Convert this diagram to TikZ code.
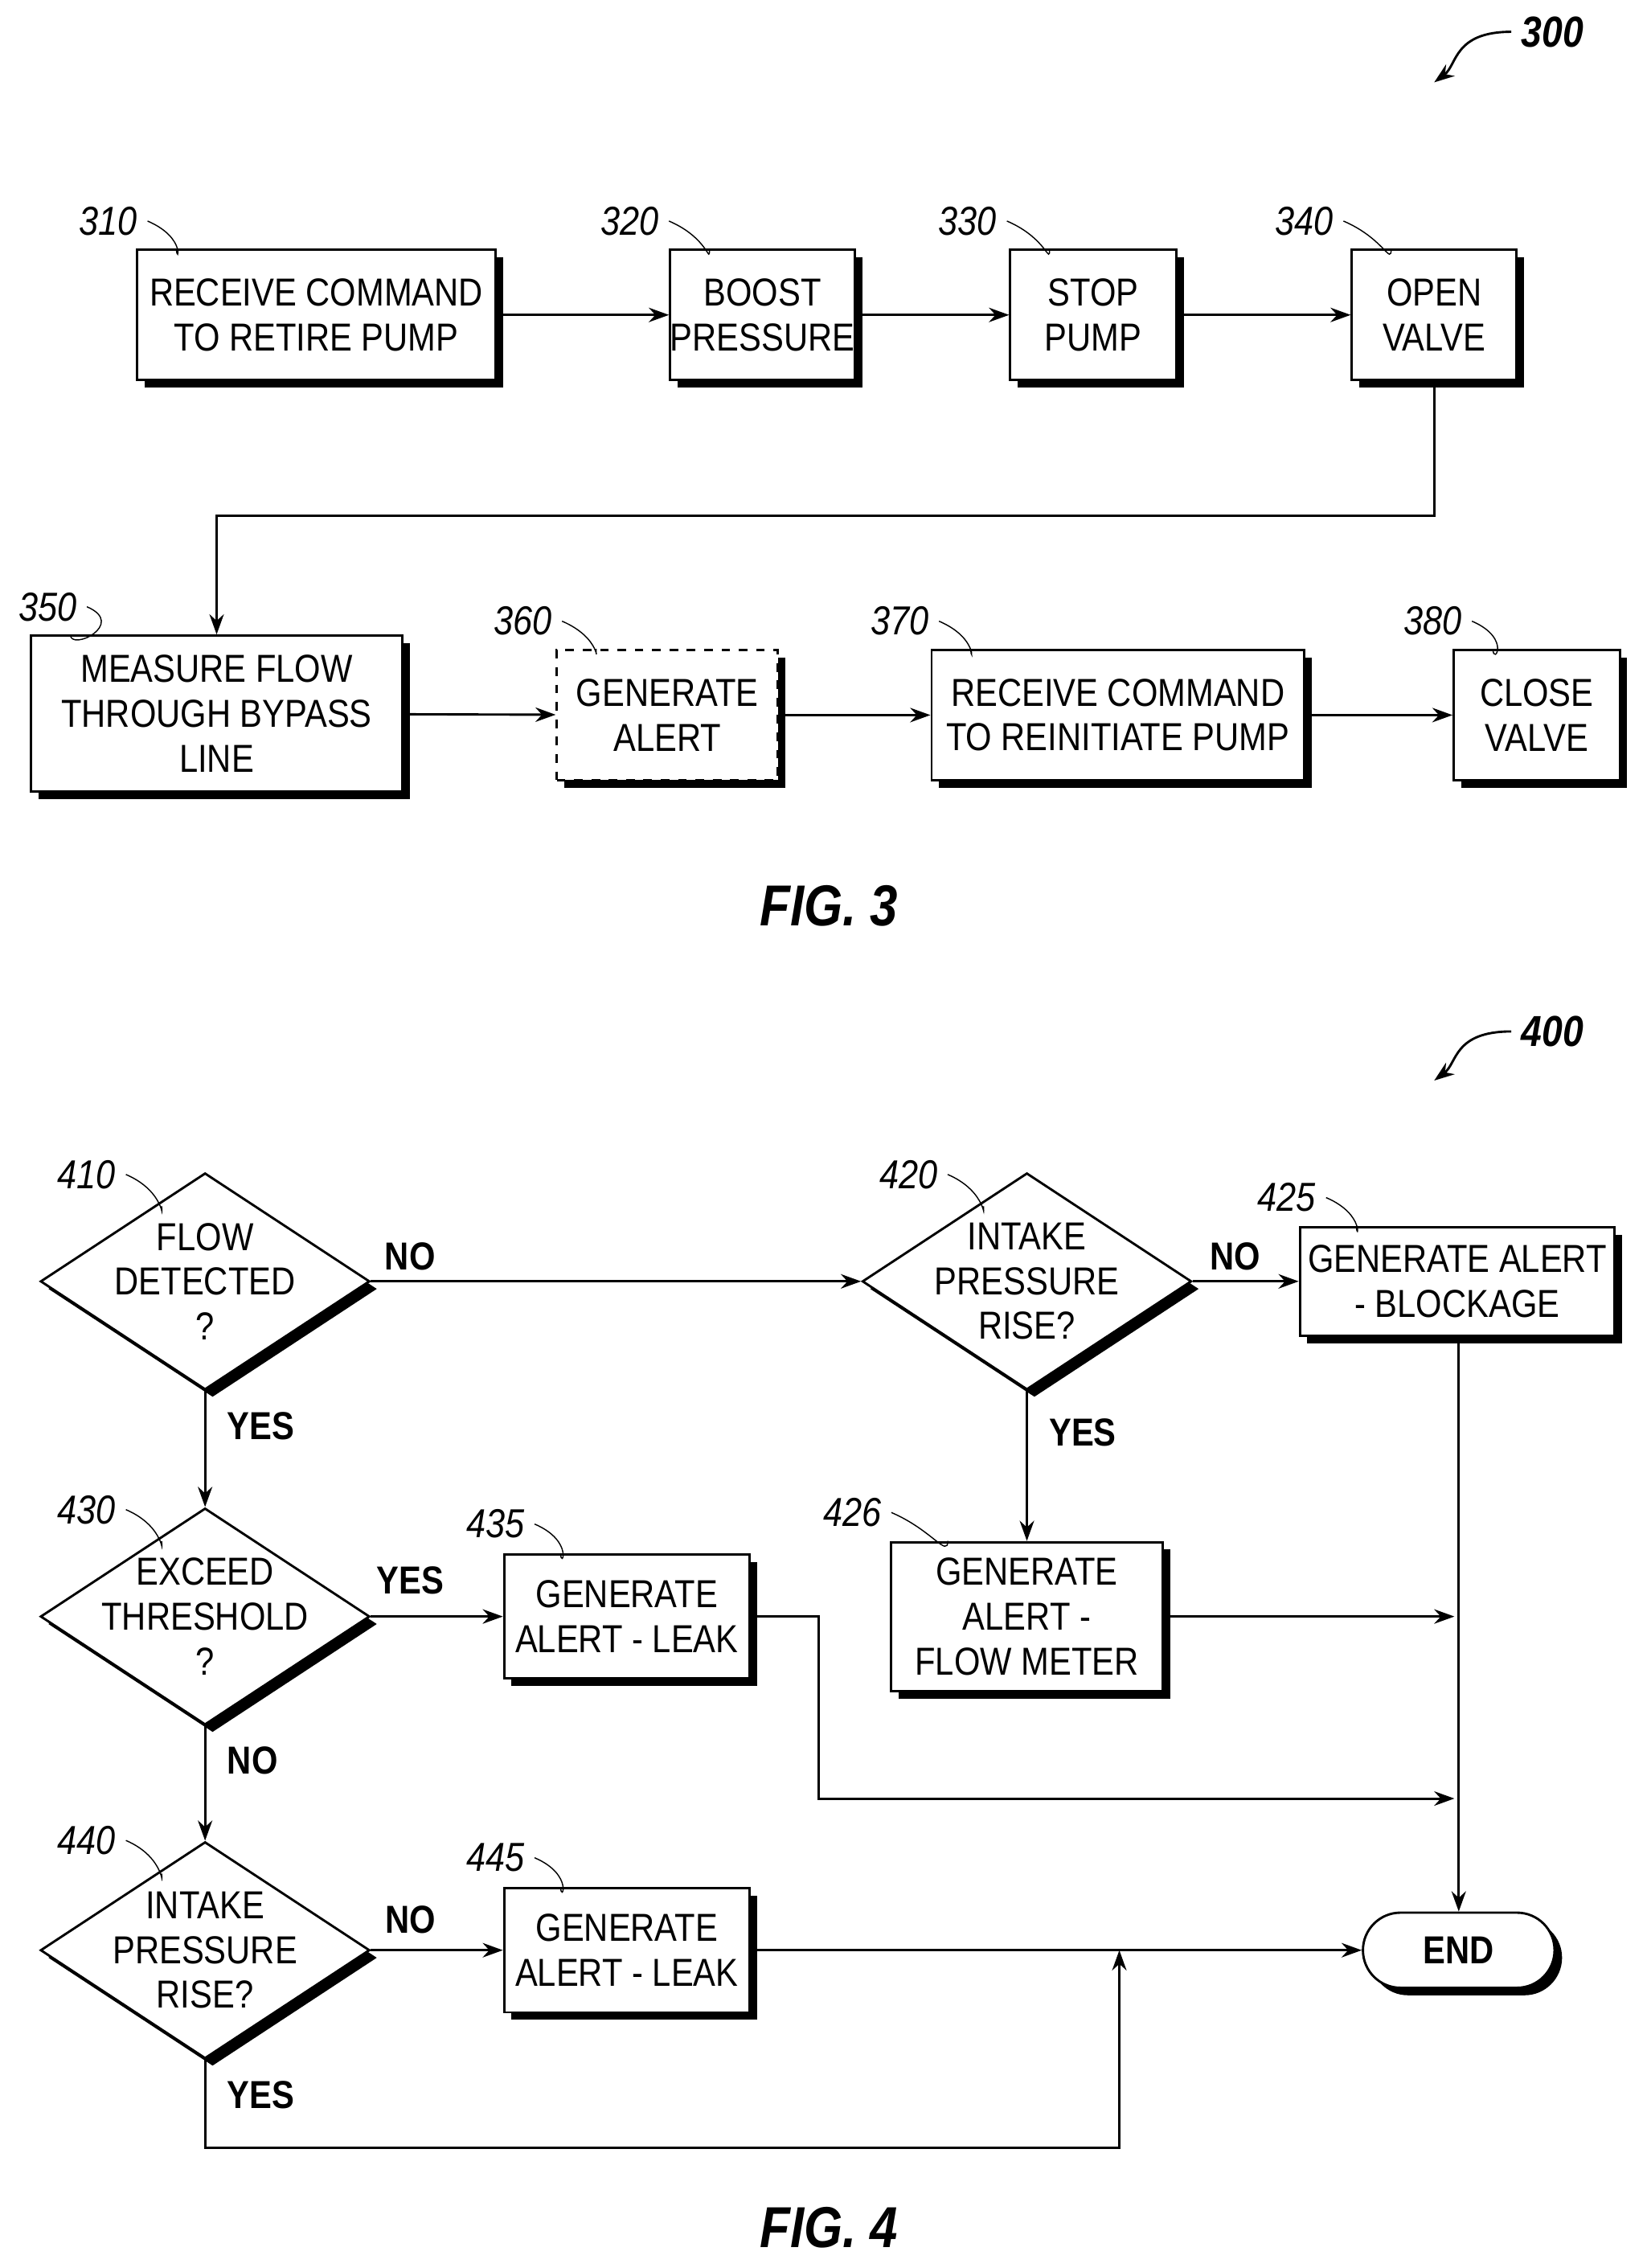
\documentclass[tikz,border=0pt]{standalone}
\usepackage{fontspec}
\setmainfont[FakeStretch=0.86]{Liberation Sans}
\usetikzlibrary{shapes.geometric,shapes.misc,shadows,arrows.meta}
\begin{document}
\begin{tikzpicture}[x=0.5pt,y=-0.5pt,
  every node/.style={font=\fontsize{13.5}{15.5}\selectfont},
  sh/.style={drop shadow={shadow xshift=2.6pt,shadow yshift=-2.6pt,fill=black,opacity=1}},
  box/.style={draw,thick,fill=white,sh,align=center,inner sep=0pt},
  dia/.style={draw,thick,fill=white,sh,diamond,inner sep=0pt,minimum width=114pt,minimum height=75pt},
  arr/.style={thick,-{Stealth[length=7pt,width=5pt]}},
  num/.style={font=\fontsize{14}{16}\selectfont\itshape},
  yn/.style={font=\fontsize{13.5}{15.5}\selectfont\bfseries},
  lead/.style={thin}]
\useasboundingbox (0,0) rectangle (1140,1570);
% FIG 3
\node[box,minimum width=124pt,minimum height=45pt] (b310) at (219,218) {RECEIVE COMMAND\\TO RETIRE PUMP};
\node[box,minimum width=64pt,minimum height=45pt] (b320) at (528,218) {BOOST\\PRESSURE};
\node[box,minimum width=57.5pt,minimum height=45pt] (b330) at (757,218) {STOP\\PUMP};
\node[box,minimum width=57pt,minimum height=45pt] (b340) at (993,218) {OPEN\\VALVE};
\node[box,minimum width=128.5pt,minimum height=54pt] (b350) at (150,494) {MEASURE FLOW\\THROUGH BYPASS\\LINE};
\node[box,dashed,minimum width=76.5pt,minimum height=45pt] (b360) at (462,495) {GENERATE\\ALERT};
\node[box,minimum width=129pt,minimum height=45pt] (b370) at (774,495) {RECEIVE COMMAND\\TO REINITIATE PUMP};
\node[box,minimum width=57.5pt,minimum height=45pt] (b380) at (1064,495) {CLOSE\\VALVE};
\draw[arr] (b310) -- (b320);
\draw[arr] (b320) -- (b330);
\draw[arr] (b330) -- (b340);
\coordinate (c1) at (993,357); \coordinate (c2) at (150,357);
\draw[arr] (b340.south) -- (c1) -- (c2) -- (b350.north);
\draw[arr] (b350) -- (b360);
\draw[arr] (b360) -- (b370);
\draw[arr] (b370) -- (b380);
\foreach \n/\x/\y/\t in {n310/75/153/310,n320/436/153/320,n330/670/153/330,n340/903/153/340,n350/33/420/350,n360/362/430/360,n370/623/430/370,n380/992/430/380}{
  \node[num] (\n) at (\x,\y) {\t};}
\foreach \n/\b in {n310/b310,n320/b320,n330/b330,n340/b340,n350/b350,n360/b360,n370/b370,n380/b380}{
  \draw[lead] (\n.east) .. controls +(14pt,-6pt) and +(0,-6pt) .. ([xshift=14pt]\b.north west);}
\node[num,font=\fontsize{15}{17}\selectfont\bfseries\itshape] (n300) at (1075,22) {300};
\coordinate (t300) at (993,57);
\draw[thick,-{Stealth[length=7pt,width=5pt]}] (n300.west) .. controls +(-20pt,0pt) and +(8pt,6pt) .. (t300);
\node[font=\fontsize{20}{22}\selectfont\bfseries\itshape] (f3) at (574,627) {FIG. 3};
% FIG 4
\node[dia,label={[align=center]center:FLOW\\DETECTED\\?}] (d410) at (142,887) {};
\node[dia,label={[align=center]center:INTAKE\\PRESSURE\\RISE?}] (d420) at (711,887) {};
\node[box,minimum width=109pt,minimum height=37.5pt] (b425) at (1009,887) {GENERATE ALERT\\- BLOCKAGE};
\node[dia,label={[align=center]center:EXCEED\\THRESHOLD\\?}] (d430) at (142,1119) {};
\node[box,minimum width=85pt,minimum height=43pt] (b435) at (434,1119) {GENERATE\\ALERT - LEAK};
\node[box,minimum width=94pt,minimum height=51.5pt] (b426) at (711,1119) {GENERATE\\ALERT -\\FLOW METER};
\node[dia,label={[align=center]center:INTAKE\\PRESSURE\\RISE?}] (d440) at (142,1350) {};
\node[box,minimum width=85pt,minimum height=43pt] (b445) at (434,1350) {GENERATE\\ALERT - LEAK};
\node[draw,thick,fill=white,sh,rounded rectangle,minimum width=73pt,minimum height=26pt,font=\fontsize{13.5}{15.5}\selectfont\bfseries] (end) at (1010,1350) {END};
\draw[arr] (d410.east) -- node[yn,above,pos=0.08]{NO} (d420.west);
\draw[arr] (d420.east) -- node[yn,above,pos=0.4]{NO} (b425.west);
\draw[arr] (d420.south) -- node[yn,right,pos=0.28,xshift=4pt]{YES} (b426.north);
\draw[arr] (d410.south) -- node[yn,right,pos=0.3,xshift=4pt]{YES} (d430.north);
\draw[arr] (d430.east) -- node[yn,above,pos=0.3,yshift=4pt]{YES} (b435.west);
\draw[arr] (d430.south) -- node[yn,right,pos=0.3,xshift=4pt]{NO} (d440.north);
\draw[arr] (d440.east) -- node[yn,above,pos=0.3,yshift=2pt]{NO} (b445.west);
\draw[arr] (b425.south -| end.north) -- (end.north);
\coordinate (e426) at (1007,1119);
\draw[arr] (b426.east) -- (e426);
\coordinate (k1) at (567,1119); \coordinate (k2) at (567,1245); \coordinate (e435) at (1007,1245);
\draw[arr] (b435.east) -- (k1) -- (k2) -- (e435);
\draw[arr] (b445.east) -- (end.west);
\coordinate (m1) at (142,1487); \coordinate (m2) at (775,1487); \coordinate (m3) at (775,1350);
\draw[arr] (d440.south) -- node[yn,right,pos=0.4,xshift=4pt]{YES} (m1) -- (m2) -- (m3);
\foreach \n/\x/\y/\t in {n410/60/813/410,n420/629/813/420,n425/891/829/425,n430/60/1045/430,n435/343/1055/435,n426/590/1047/426,n440/60/1274/440,n445/343/1286/445}{
  \node[num] (\n) at (\x,\y) {\t};}
\coordinate (p410) at (112,835); \coordinate (p420) at (681,835);
\coordinate (p430) at (112,1067); \coordinate (p440) at (112,1297);
\foreach \n/\p in {n410/p410,n420/p420,n430/p430,n440/p440}{
  \draw[lead] (\n.east) .. controls +(14pt,-6pt) and +(0,-6pt) .. (\p);}
\foreach \n/\b in {n425/b425,n435/b435,n426/b426,n445/b445}{
  \draw[lead] (\n.east) .. controls +(14pt,-6pt) and +(0,-6pt) .. ([xshift=20pt]\b.north west);}
\node[num,font=\fontsize{15}{17}\selectfont\bfseries\itshape] (n400) at (1075,714) {400};
\coordinate (t400) at (993,748);
\draw[thick,-{Stealth[length=7pt,width=5pt]}] (n400.west) .. controls +(-20pt,0pt) and +(8pt,6pt) .. (t400);
\node[font=\fontsize{20}{22}\selectfont\bfseries\itshape] (f4) at (574,1542) {FIG. 4};
\end{tikzpicture}
\end{document}
